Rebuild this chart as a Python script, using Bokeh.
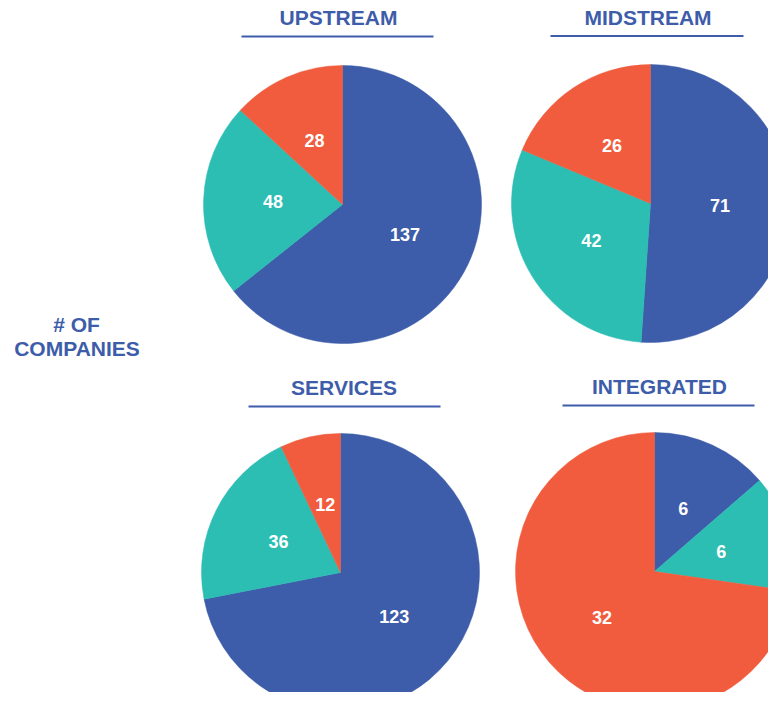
import math
from bokeh.plotting import figure
from bokeh.models import ColumnDataSource, Range1d
from bokeh.core.properties import value
from bokeh.embed import file_html
from bokeh.resources import INLINE

# ---- data ----
segments = ["UPSTREAM", "MIDSTREAM", "SERVICES", "INTEGRATED"]
blue_vals = [137, 71, 123, 6]
teal_vals = [48, 42, 36, 6]
orange_vals = [28, 26, 12, 32]
side_label = ["# OF", "COMPANIES"]

# ---- styling / layout ----
BLUE = "#3D5CA9"
TEAL = "#2CBDB3"
ORANGE = "#F05C3D"
FONT = "Liberation Sans"
W, H = 768, 692
R = 139

def sx(x):  # picture x -> data x
    return x

def sy(y):  # picture y -> data y
    return H - y

# picture-space pie centres and title geometry (title y = cap-centre)
centers = [(342, 204), (650, 203), (340, 572), (654, 571)]
title_pos = [(338, 17), (647.5, 16.5), (343.5, 387), (659, 385.5)]
underline = [(241, 433, 36), (550, 743, 35.5), (248, 440, 406), (562, 754, 405)]

p = figure(width=W, height=H, x_range=Range1d(0, W), y_range=Range1d(0, H),
           output_backend="svg", toolbar_location=None, min_border=0,
           match_aspect=False)
p.axis.visible = False
p.grid.visible = False
p.outline_line_color = None
p.background_fill_color = "white"
p.border_fill_color = "white"

wx, wy, ws, we, wc = [], [], [], [], []
lx, ly, lt = [], [], []
for i, seg in enumerate(segments):
    vals = [blue_vals[i], teal_vals[i], orange_vals[i]]
    cols = [BLUE, TEAL, ORANGE]
    total = sum(vals)
    cx, cy = centers[i]
    cum = 0.0
    for v, c in zip(vals, cols):
        a0 = math.pi / 2 - 2 * math.pi * cum / total
        a1 = math.pi / 2 - 2 * math.pi * (cum + v) / total
        wx.append(sx(cx)); wy.append(sy(cy)); ws.append(a0); we.append(a1); wc.append(c)
        mid = (a0 + a1) / 2
        lx.append(sx(cx) + 0.5 * R * math.cos(mid))
        ly.append(sy(cy) + 0.5 * R * math.sin(mid))
        lt.append(str(v))
        cum += v

wsrc = ColumnDataSource(dict(x=wx, y=wy, s=ws, e=we, c=wc))
p.wedge(x="x", y="y", radius=R, start_angle="s", end_angle="e", direction="clock",
        fill_color="c", line_color="c", line_width=0.5, source=wsrc)

lsrc = ColumnDataSource(dict(x=lx, y=ly, t=lt))
p.text(x="x", y="y", text="t", source=lsrc, text_color="white",
       text_font=value(FONT), text_font_style="bold", text_font_size="18px",
       text_align="center", text_baseline="middle")

tsrc = ColumnDataSource(dict(x=[sx(t[0]) for t in title_pos],
                             y=[sy(t[1]) for t in title_pos], t=segments))
p.text(x="x", y="y", text="t", source=tsrc, text_color=BLUE,
       text_font=value(FONT), text_font_style="bold", text_font_size="21px",
       text_align="center", text_baseline="middle")

p.segment(x0=[sx(u[0]) for u in underline], x1=[sx(u[1]) for u in underline],
          y0=[sy(u[2]) for u in underline], y1=[sy(u[2]) for u in underline],
          line_color=BLUE, line_width=1.8)

p.text(x=[sx(76), sx(76.5)], y=[sy(324), sy(348)], text=side_label, text_color=BLUE,
       text_font=value(FONT), text_font_style="bold", text_font_size="21px",
       text_align="center", text_baseline="middle")

open("out.html", "w").write(file_html(p, INLINE))
